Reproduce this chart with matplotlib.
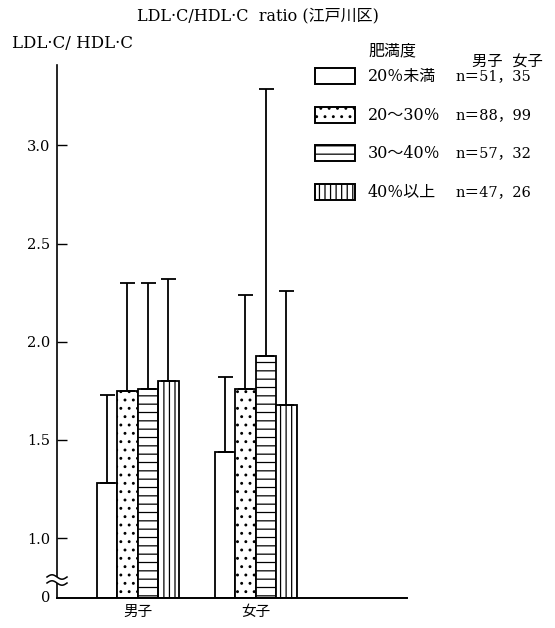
import numpy as np
import matplotlib
matplotlib.use("Agg")
import matplotlib.pyplot as plt
from matplotlib.patches import Rectangle
from matplotlib.lines import Line2D

plt.rcParams['font.family'] = ['DejaVu Serif', 'Noto Sans CJK JP']
plt.rcParams['hatch.linewidth'] = 0.9

# ---- data ----
groups = ['男子', '女子']
categories = ['20％未満', '20～30％', '30～40％', '40％以上']
boys_mean = [1.28, 1.75, 1.76, 1.80]
boys_top = [1.73, 2.30, 2.30, 2.32]
girls_mean = [1.44, 1.76, 1.93, 1.68]
girls_top = [1.82, 2.24, 3.29, 2.26]
n_boys = [51, 88, 57, 47]
n_girls = [35, 99, 32, 26]
yticks = [1.0, 1.5, 2.0, 2.5, 3.0]
ytick_labels = ['1.0', '1.5', '2.0', '2.5', '3.0']

hatches = ['', '..', '--', '|||']

W, H = 555, 628
fig = plt.figure(figsize=(W / 100, H / 100), dpi=100)

def fx(px):
    return px / W

def fy(py):
    return 1 - py / H

ax_l, ax_r, ax_t, ax_b = 57, 407, 65, 598
ax = fig.add_axes([fx(ax_l), fy(ax_b), fx(ax_r) - fx(ax_l), fy(ax_t) - fy(ax_b)])

y0 = 0.695
ax.set_ylim(y0, 3.41)
ax.set_xlim(-0.683, 2.283)

bw = 0.174
means = [boys_mean, girls_mean]
tops = [boys_top, girls_top]
for g in range(len(groups)):
    for i in range(len(categories)):
        xc = g + (i - 1.5) * bw
        m = means[g][i]
        ax.bar(xc, m - y0, bottom=y0, width=bw, facecolor='white',
               edgecolor='black', linewidth=1.3, hatch=hatches[i], zorder=2)
        ax.errorbar(xc, m, yerr=[[0], [tops[g][i] - m]], fmt='none',
                    ecolor='black', elinewidth=1.3, capsize=5.4,
                    capthick=1.3, zorder=3)

for s in ['top', 'right']:
    ax.spines[s].set_visible(False)
ax.spines['left'].set_linewidth(1.2)
ax.spines['bottom'].set_linewidth(1.4)

ax.set_yticks(yticks)
ax.set_yticklabels(ytick_labels, fontsize=10.5)
ax.tick_params(axis='y', direction='in', length=7, width=1.0, pad=5)
ax.set_xticks(range(len(groups)))
ax.set_xticklabels(groups, fontsize=10.5)
ax.tick_params(axis='x', length=0, pad=5)

# "0" at the bottom of the broken axis
fig.text(fx(46), fy(598), '0', fontsize=10.5, ha='center', va='center')

# axis break mark
xs = np.linspace(47, 67, 40)
wave = 2.2 * np.sin((xs - 47) / 20 * 2 * np.pi)
ya = 577 - wave
yb = 583 - wave
poly_x = np.concatenate([xs, xs[::-1]])
poly_y = np.concatenate([ya, yb[::-1]])
fig.patches.append(plt.Polygon(np.column_stack([fx(poly_x), fy(poly_y)]),
                               closed=True, facecolor='white', edgecolor='none',
                               transform=fig.transFigure, zorder=5))
for yy in (ya, yb):
    fig.add_artist(Line2D(fx(xs), fy(yy), color='black', lw=1.1,
                          transform=fig.transFigure, zorder=6))

# titles
fig.text(fx(258), fy(16), 'LDL·C/HDL·C  ratio (江戸川区)', fontsize=11.5,
         ha='center', va='center')
fig.text(fx(12), fy(44), 'LDL·C/ HDL·C', fontsize=12, ha='left', va='center')

# legend
fig.text(fx(368), fy(51), '肥満度', fontsize=11.5, ha='left', va='center')
fig.text(fx(472), fy(63), '男子  女子', fontsize=11, ha='left', va='center')
row_y = [76, 115, 153, 192]
for i in range(len(categories)):
    yc = row_y[i]
    fig.add_artist(Rectangle((fx(315), fy(yc + 8)), fx(355) - fx(315),
                             fy(yc - 8) - fy(yc + 8), facecolor='white',
                             edgecolor='black', linewidth=1.4,
                             hatch=hatches[i], transform=fig.transFigure))
    fig.text(fx(368), fy(yc), categories[i], fontsize=11.5, ha='left', va='center')
    fig.text(fx(456), fy(yc), f'n＝{n_boys[i]}，{n_girls[i]}', fontsize=10.5,
             ha='left', va='center')

fig.savefig('out.png', dpi=100)
